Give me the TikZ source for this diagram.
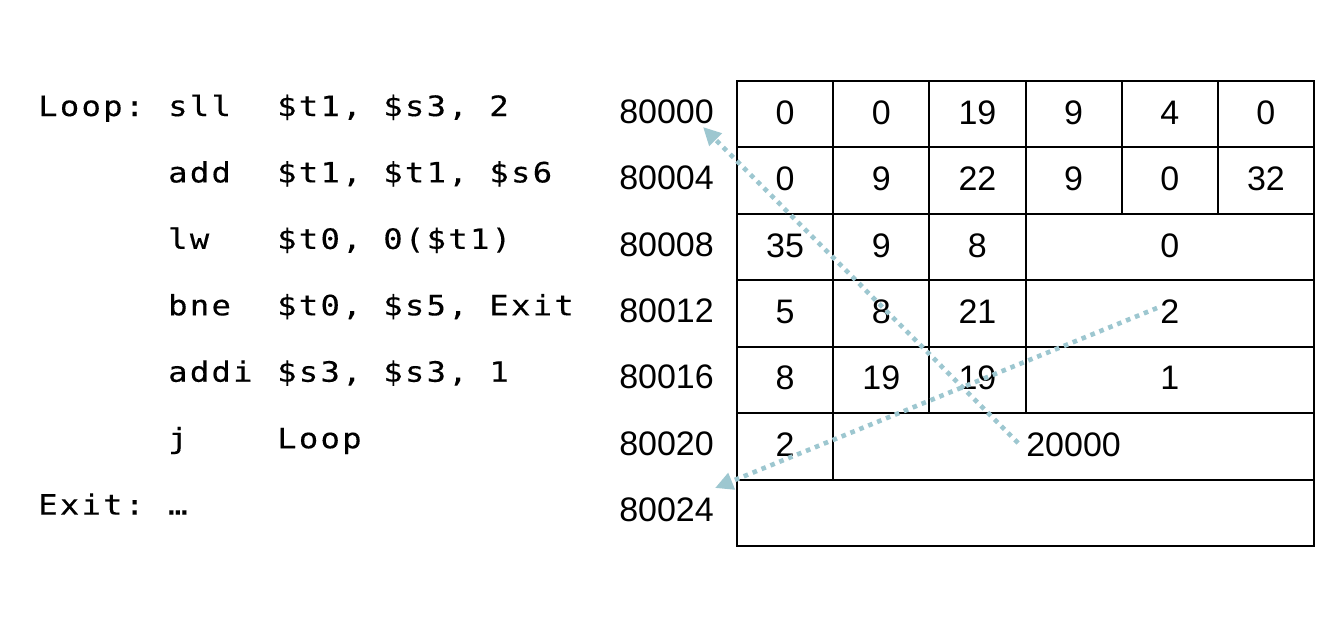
\documentclass[tikz,border=0pt]{standalone}
\usepackage{fontspec}
\setmainfont{Liberation Sans}
\newfontfamily\codefont[FakeStretch=1.15,LetterSpace=8.2,FakeBold=0.3]{DejaVu Sans Mono}
\usetikzlibrary{arrows.meta}
\definecolor{arrowblue}{RGB}{157,199,208}
\begin{document}
\begin{tikzpicture}[x=1pt,y=-1pt,
  cell/.style={draw, line width=2pt, minimum height=66.43pt, inner sep=0pt, anchor=north west,
    font=\fontsize{34}{40}\selectfont, text height=20pt, text depth=0pt},
  addr/.style={anchor=base east, inner sep=0pt, font=\fontsize{34}{40}\selectfont},
  code/.style={anchor=base west, inner sep=0pt, font=\codefont\fontsize{28}{33}\selectfont},
  flow/.style={draw=arrowblue, line width=4.6pt, dash pattern=on 4.6pt off 5pt,
    -{Triangle[length=18pt,width=17pt,fill=arrowblue]}}]
\fill[white] (0,0) rectangle (1338,630);
\useasboundingbox (0,0) rectangle (1338,630);
\def\cw{96.17}
\def\rh{66.43}
% row 1
\node[cell, minimum width=\cw pt] (r1c1) at (736,80) {0};
\node[cell, minimum width=\cw pt] (r1c2) at (736+\cw,80) {0};
\node[cell, minimum width=\cw pt] (r1c3) at (736+2*\cw,80) {19};
\node[cell, minimum width=\cw pt] (r1c4) at (736+3*\cw,80) {9};
\node[cell, minimum width=\cw pt] (r1c5) at (736+4*\cw,80) {4};
\node[cell, minimum width=\cw pt] (r1c6) at (736+5*\cw,80) {0};
% row 2
\node[cell, minimum width=\cw pt] (r2c1) at (736,80+\rh) {0};
\node[cell, minimum width=\cw pt] (r2c2) at (736+\cw,80+\rh) {9};
\node[cell, minimum width=\cw pt] (r2c3) at (736+2*\cw,80+\rh) {22};
\node[cell, minimum width=\cw pt] (r2c4) at (736+3*\cw,80+\rh) {9};
\node[cell, minimum width=\cw pt] (r2c5) at (736+4*\cw,80+\rh) {0};
\node[cell, minimum width=\cw pt] (r2c6) at (736+5*\cw,80+\rh) {32};
% row 3
\node[cell, minimum width=\cw pt] (r3c1) at (736,80+2*\rh) {35};
\node[cell, minimum width=\cw pt] (r3c2) at (736+\cw,80+2*\rh) {9};
\node[cell, minimum width=\cw pt] (r3c3) at (736+2*\cw,80+2*\rh) {8};
\node[cell, minimum width=3*\cw pt] (r3c4) at (736+3*\cw,80+2*\rh) {0};
% row 4
\node[cell, minimum width=\cw pt] (r4c1) at (736,80+3*\rh) {5};
\node[cell, minimum width=\cw pt] (r4c2) at (736+\cw,80+3*\rh) {8};
\node[cell, minimum width=\cw pt] (r4c3) at (736+2*\cw,80+3*\rh) {21};
\node[cell, minimum width=3*\cw pt] (r4c4) at (736+3*\cw,80+3*\rh) {2};
% row 5
\node[cell, minimum width=\cw pt] (r5c1) at (736,80+4*\rh) {8};
\node[cell, minimum width=\cw pt] (r5c2) at (736+\cw,80+4*\rh) {19};
\node[cell, minimum width=\cw pt] (r5c3) at (736+2*\cw,80+4*\rh) {19};
\node[cell, minimum width=3*\cw pt] (r5c4) at (736+3*\cw,80+4*\rh) {1};
% row 6
\node[cell, minimum width=\cw pt] (r6c1) at (736,80+5*\rh) {2};
\node[cell, minimum width=5*\cw pt] (r6c2) at (736+\cw,80+5*\rh) {20000};
% row 7
\node[cell, minimum width=6*\cw pt] (r7c1) at (736,80+6*\rh) {};
% addresses
\node[addr] (a0) at (714,123.2) {80000};
\node[addr] (a4) at (714,189.6) {80004};
\node[addr] (a8) at (714,256.1) {80008};
\node[addr] (a12) at (714,322.5) {80012};
\node[addr] (a16) at (714,388.9) {80016};
\node[addr] (a20) at (714,455.4) {80020};
\node[addr] (a24) at (714,521.8) {80024};
% code
\node[code] (l1) at (38,116) {Loop:};
\node[code] (o1) at (168,116) {sll};
\node[code] (p1) at (277,116) {\$t1, \$s3, 2};
\node[code] (o2) at (168,182.4) {add};
\node[code] (p2) at (277,182.4) {\$t1, \$t1, \$s6};
\node[code] (o3) at (168,248.9) {lw};
\node[code] (p3) at (277,248.9) {\$t0, 0(\$t1)};
\node[code] (o4) at (168,315.3) {bne};
\node[code] (p4) at (277,315.3) {\$t0, \$s5, Exit};
\node[code] (o5) at (168,381.7) {addi};
\node[code] (p5) at (277,381.7) {\$s3, \$s3, 1};
\node[code] (o6) at (168,448.2) {j};
\node[code] (p6) at (277,448.2) {Loop};
\node[code] (l7) at (38,514.6) {Exit:};
\node[code] (o7) at (168,514.6) {…};
% arrows
\coordinate (s1) at (1018,443);
\coordinate (e1) at (703,127);
\coordinate (s2) at (1157,308);
\coordinate (e2) at (715,488);
\draw[flow] (s1) -- (e1);
\draw[flow] (s2) -- (e2);
\end{tikzpicture}
\end{document}
